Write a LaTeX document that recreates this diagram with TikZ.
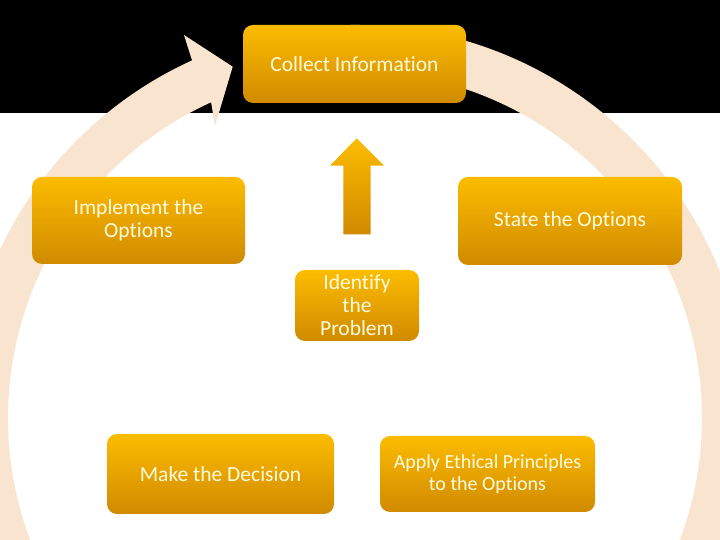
\documentclass[tikz,border=0pt]{standalone}
\usepackage{fontspec}
\setmainfont{Carlito}[Ligatures=NoCommon]
\definecolor{ringc}{HTML}{F8E4CF}
\definecolor{otop}{HTML}{FCBC00}
\definecolor{obot}{HTML}{D08A00}
\definecolor{txt}{HTML}{FFFBE0}
\tikzset{
  stepbox/.style={rounded corners=10pt, top color=otop, bottom color=obot, draw=none,
    text=txt, align=center, inner sep=0pt, font=\fontsize{21.5}{23}\selectfont},
}
\begin{document}
\begin{tikzpicture}[x=1pt,y=1pt]
\useasboundingbox (0,0) rectangle (720,540);
\fill[white] (0,0) rectangle (720,540);
\fill[black] (0,426.7) rectangle (720,540);
% ring arrow
\fill[ringc] ([shift={(355,122)}]95:393) arc[start angle=95,end angle=-245.5,radius=393pt]
  -- (184,505) -- (232.7,473.3) -- (215,414)
  -- ([shift={(355,122)}]114.5:347) arc[start angle=-245.5,end angle=95,radius=347pt] -- cycle;
% up arrow
\shade[top color=otop, bottom color=obot] (356.7,401.7) -- (384,374.3) -- (370.7,374.3) -- (370.7,305.7)
  -- (343.3,305.7) -- (343.3,374.3) -- (330,374.3) -- cycle;
\node[stepbox, minimum width=223pt, minimum height=78pt] (collect) at (354.5,476) {Collect Information};
\node[stepbox, minimum width=213pt, minimum height=87pt] (implement) at (138.5,319.5) {Implement the\\Options};
\node[stepbox, minimum width=224pt, minimum height=88pt] (state) at (570,319) {State the Options};
\node[stepbox, minimum width=124pt, minimum height=71pt] (identify) at (357,234.5) {Identify\\the\\Problem};
\node[stepbox, minimum width=227pt, minimum height=80pt] (decision) at (220.5,66) {Make the Decision};
\node[stepbox, minimum width=215pt, minimum height=76pt, font=\fontsize{20}{22}\selectfont] (apply) at (487.5,66) {Apply Ethical Principles\\to the Options};
\end{tikzpicture}
\end{document}
